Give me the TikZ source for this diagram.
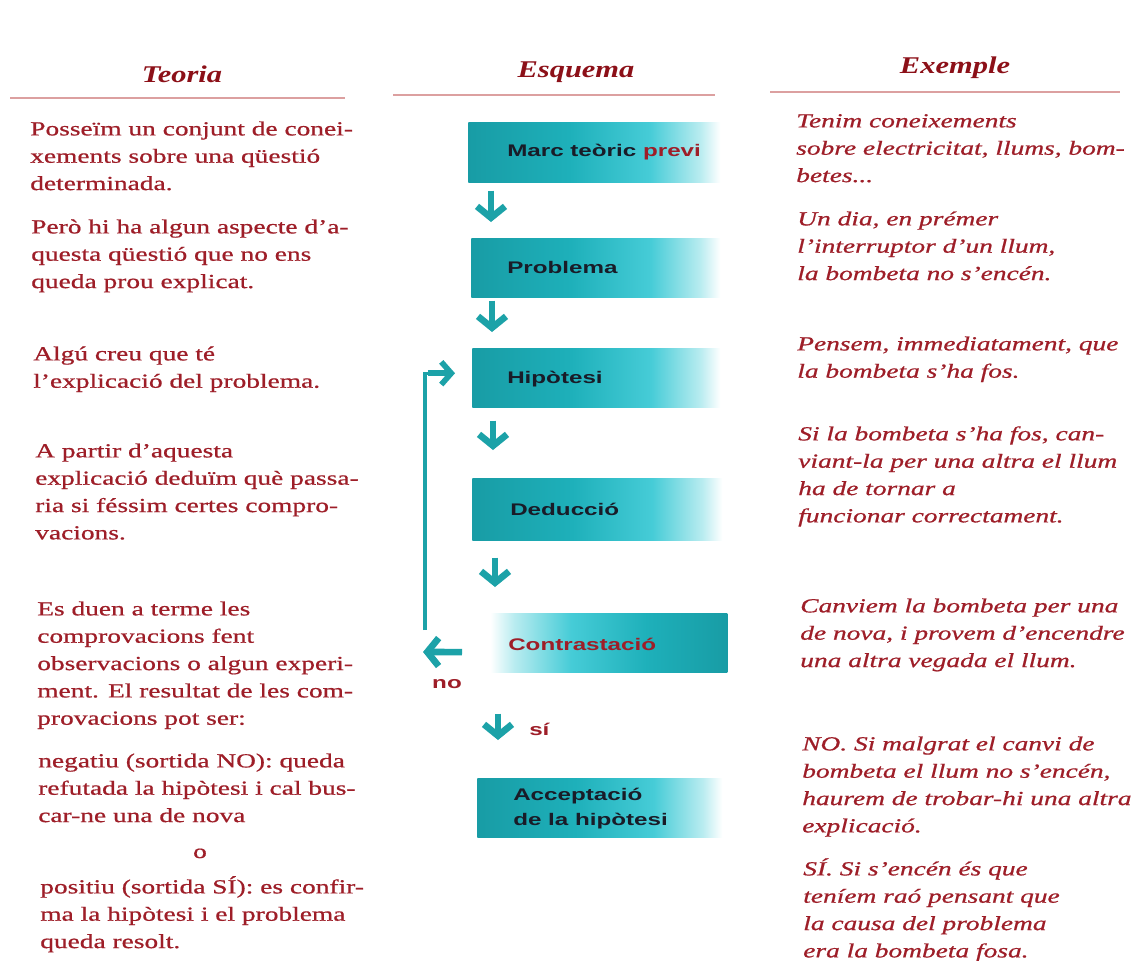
\documentclass[tikz,border=0pt]{standalone}
\usepackage{fontspec}
\setmainfont{Liberation Serif}[FakeStretch=1.37,FakeBold=0.7]
\newfontfamily\headfamily{Liberation Serif}[FakeStretch=1.27]
\newfontfamily\labelfamily{Liberation Sans}[FakeStretch=1.44]
\usetikzlibrary{arrows.meta}
\definecolor{txtred}{RGB}{158,30,40}
\definecolor{headred}{RGB}{140,16,24}
\definecolor{rulered}{RGB}{220,160,160}
\definecolor{tealarr}{RGB}{28,162,168}
\definecolor{tealdark}{RGB}{24,156,165}
\definecolor{tealmid}{RGB}{30,176,186}
\definecolor{tealbright}{RGB}{70,204,215}
\definecolor{teallight}{RGB}{185,236,240}
\definecolor{labink}{RGB}{25,28,40}
\pgfdeclarehorizontalshading{boxfade}{100bp}{color(0bp)=(tealdark); color(25bp)=(tealdark); color(45bp)=(tealmid); color(61bp)=(tealbright); color(71bp)=(teallight); color(75bp)=(white); color(100bp)=(white)}
\pgfdeclarehorizontalshading{boxfadeback}{100bp}{color(0bp)=(white); color(25bp)=(white); color(30bp)=(teallight); color(42bp)=(tealbright); color(58bp)=(tealmid); color(75bp)=(tealdark); color(100bp)=(tealdark)}
\tikzset{
  body/.style={font=\fontsize{15}{20.5}\selectfont, text=txtred, align=left, anchor=north west, inner sep=0pt},
  example/.style={body, font=\fontsize{15}{20.5}\selectfont\itshape},
  head/.style={font=\headfamily\fontsize{18}{20}\selectfont\bfseries\itshape, text=headred, anchor=base, inner sep=0pt},
  headrule/.style={draw=rulered, line width=0.8pt},
  box/.style={anchor=north west, inner sep=0pt, shading=boxfade},
  boxback/.style={anchor=north west, inner sep=0pt, shading=boxfadeback},
  lab/.style={font=\labelfamily\fontsize{12.6}{18.75}\selectfont\bfseries, text=labink, anchor=base west, inner sep=0pt, align=left},
  yesno/.style={font=\labelfamily\fontsize{12.6}{15}\selectfont\bfseries, text=txtred, anchor=base, inner sep=0pt},
  downarr/.style={draw=tealarr, line width=5pt, -{Straight Barb[length=8.5pt,width=21pt]}},
  sidearr/.style={draw=tealarr, line width=4.2pt, -{Straight Barb[length=7.5pt,width=17pt]}},
  fbline/.style={draw=tealarr, line width=2.4pt}
}
\begin{document}
\begin{tikzpicture}[x=0.75pt, y=-0.75pt]
\fill[white] (0,0) rectangle (1131,960);
\useasboundingbox (0,0) rectangle (1131,960);

% headers
\node[head] (hT) at (182,82) {Teoria};
\node[head] (hE) at (576,77) {Esquema};
\node[head] (hX) at (955,73) {Exemple};
\draw[headrule] (10,98) -- (345,98);
\draw[headrule] (393,95) -- (715,95);
\draw[headrule] (770,92) -- (1120,92);

% left column
\node[body] (l1) at (30,116) {\strut Posseïm un conjunt de conei-\\xements sobre una qüestió\\determinada.};
\node[body] (l2) at (31,214) {\strut Però hi ha algun aspecte d’a-\\questa qüestió que no ens\\queda prou explicat.};
\node[body] (l3) at (33,341) {\strut Algú creu que té\\l’explicació del problema.};
\node[body] (l4) at (35,438) {\strut A partir d’aquesta\\explicació deduïm què passa-\\ria si féssim certes compro-\\vacions.};
\node[body] (l5) at (37,596) {\strut Es duen a terme les\\comprovacions fent\\observacions o algun experi-\\ment. El resultat de les com-\\provacions pot ser:};
\node[body] (l6) at (38,748) {\strut negatiu (sortida NO): queda\\refutada la hipòtesi i cal bus-\\car-ne una de nova};
\node[body, anchor=base] (lo) at (200,858) {o};
\node[body] (l7) at (40,874) {\strut positiu (sortida SÍ): es confir-\\ma la hipòtesi i el problema\\queda resolt.};

% right column
\node[example] (r1) at (796,108) {\strut Tenim coneixements\\sobre electricitat, llums, bom-\\betes...};
\node[example] (r2) at (797,206) {\strut Un dia, en prémer\\l’interruptor d’un llum,\\la bombeta no s’encén.};
\node[example] (r3) at (797,331) {\strut Pensem, immediatament, que\\la bombeta s’ha fos.};
\node[example] (r4) at (798,421) {\strut Si la bombeta s’ha fos, can-\\viant-la per una altra el llum\\ha de tornar a\\funcionar correctament.};
\node[example] (r5) at (800,593) {\strut Canviem la bombeta per una\\de nova, i provem d’encendre\\una altra vegada el llum.};
\node[example] (r6) at (802,731) {\strut NO. Si malgrat el canvi de\\bombeta el llum no s’encén,\\haurem de trobar-hi una altra\\explicació.};
\node[example] (r7) at (803,856) {\strut SÍ. Si s’encén és que\\teníem raó pensant que\\la causa del problema\\era la bombeta fosa.};

% schema boxes
\node[box, minimum width=189pt, minimum height=45pt] (b1) at (468,122) {};
\node[box, minimum width=186.75pt, minimum height=44.25pt] (b2) at (471,238) {};
\node[box, minimum width=186pt, minimum height=44.25pt] (b3) at (472,348) {};
\node[box, minimum width=187.5pt, minimum height=46.5pt] (b4) at (472,478) {};
\node[boxback, minimum width=177.75pt, minimum height=44.25pt] (b5) at (490,613) {};
\node[box, minimum width=183.75pt, minimum height=44.25pt] (b6) at (477,778) {};

\node[lab] (t1) at (507,156) {Marc teòric \textcolor{txtred}{previ}};
\node[lab] (t2) at (507,273) {Problema};
\node[lab] (t3) at (507,383) {Hipòtesi};
\node[lab] (t4) at (510,515) {Deducció};
\node[lab, text=txtred] (t5) at (508,650) {Contrastació};
\node[lab] (t6) at (513,825) {Acceptació\\de la hipòtesi};

% arrows between boxes
\coordinate (c1) at (491,0);
\coordinate (c2) at (492,0);
\coordinate (c3) at (493,0);
\coordinate (c4) at (495,0);
\coordinate (c5) at (498,0);
\draw[downarr, shorten <=6pt, shorten >=12pt] (b1.south -| c1) -- (b2.north -| c1);
\draw[downarr, shorten <=2.25pt, shorten >=12pt] (b2.south -| c2) -- (b3.north -| c2);
\draw[downarr, shorten <=9.75pt, shorten >=21pt] (b3.south -| c3) -- (b4.north -| c3);
\draw[downarr, shorten <=12.75pt, shorten >=19.5pt] (b4.south -| c4) -- (b5.north -| c4);
\draw[downarr, shorten <=30.75pt, shorten >=28.5pt] (b5.south -| c5) -- (b6.north -| c5);

% no / si
\coordinate (noend) at (423,652);
\draw[downarr, shorten <=21pt] ([yshift=-7.1pt]b5.west) -- (noend);
\node[yesno] (no) at (447,688) {no};
\node[yesno, anchor=base west] (si) at (529,735) {sí};

% feedback loop
\coordinate (fb) at (425,630);
\draw[fbline, shorten >=22pt] (fb) |- ([yshift=3.4pt]b3.west);
\draw[sidearr, shorten >=12.75pt] ([xshift=-33pt,yshift=3.4pt]b3.west) -- ([yshift=3.4pt]b3.west);
\end{tikzpicture}
\end{document}
